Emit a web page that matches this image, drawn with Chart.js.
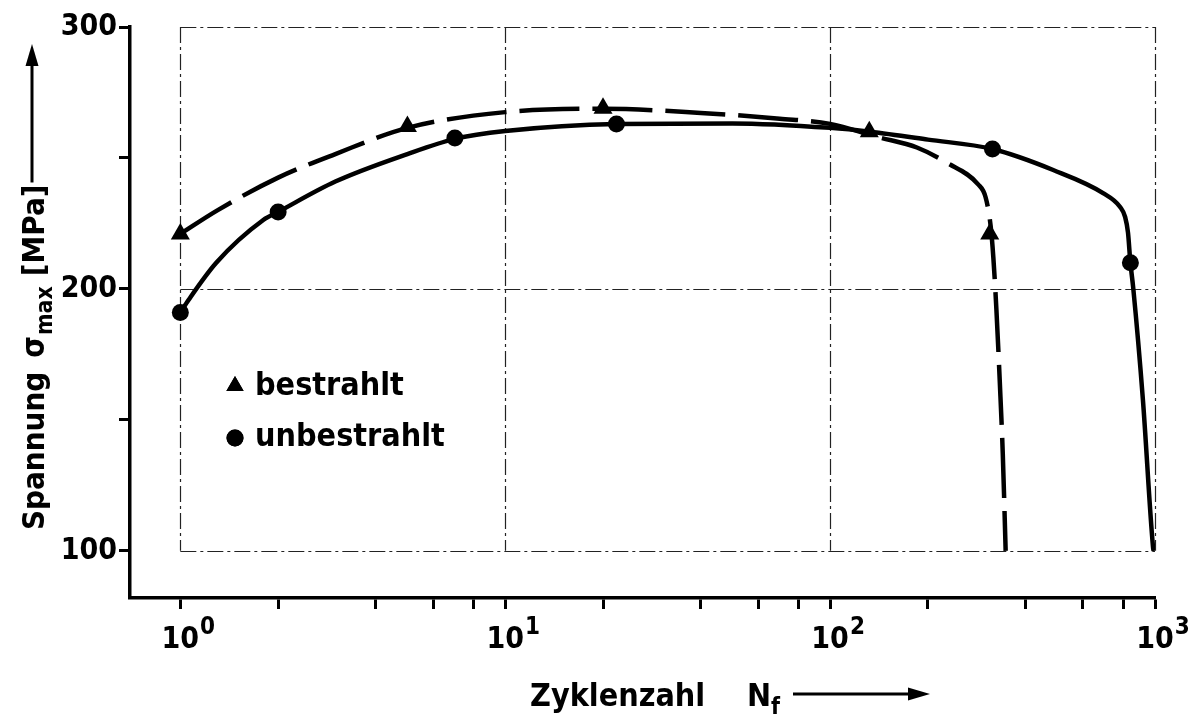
<!DOCTYPE html>
<html>
<head>
<meta charset="utf-8">
<script src="https://cdn.jsdelivr.net/npm/chart.js@4.4.1/dist/chart.umd.min.js"></script>
<style>
  html, body { margin: 0; padding: 0; background: #fff; }
  #wrap { width: 1198px; height: 715px; }
</style>
</head>
<body>
<div id="wrap"><canvas id="chart" width="1198" height="715"></canvas></div>
<script>
// Measured points: irradiated (bestrahlt) specimens
const cyclesIrr = [1, 5, 20, 132, 310];
const stressIrr = [221, 262, 269, 260, 221];

// Measured points: unirradiated (unbestrahlt) specimens
const cyclesUnirr = [1, 2, 7, 22, 316, 840];
const stressUnirr = [191, 229.4, 257.6, 263, 253.4, 210];

// Hand-fitted trend curve through the irradiated points (dashed)
const fitCyclesIrr = [1, 1.3, 2, 3, 5, 10, 20, 40, 70, 100, 140, 185, 230, 285, 301, 312, 318, 325, 333, 340, 347];
const fitStressIrr = [221, 230, 242.5, 251.5, 261.5, 267.5, 268.8, 267.2, 265, 263, 258, 254, 248, 240, 235, 224, 212, 192, 164, 137, 100];

// Hand-fitted trend curve through the unirradiated points (solid)
const fitCyclesUnirr = [1, 1.06, 1.29, 1.8, 2, 3, 5, 7, 10, 22, 50, 100, 133, 200, 316, 486, 692, 781, 809, 826, 840, 857, 918, 986, 990];
const fitStressUnirr = [191, 195.8, 210, 226.3, 229.4, 241, 251.5, 257.3, 260.3, 263, 263.2, 261.5, 260, 257, 253.4, 245.4, 236.6, 231.3, 227.5, 221.4, 210, 200.4, 157.6, 101.5, 100];

// Axis ticks and labels
const xTickValues = [1, 2, 4, 6, 8, 10, 20, 40, 60, 80, 100, 200, 400, 600, 800, 1000];
const xDecades = [1, 10, 100, 1000];
const xDecadeExponents = ['0', '1', '2', '3'];
const yTickValues = [100, 150, 200, 250, 300];
const yLabelValues = [100, 200, 300];
const gridY = [100, 200, 300];

// Texts
const seriesNames = ['bestrahlt', 'unbestrahlt'];
const xTitleText = 'Zyklenzahl';
const xSymbol = 'N';
const xSymbolSub = 'f';
const yTitleText = 'Spannung';
const ySymbol = 'σ';
const ySymbolSub = 'max';
const yUnit = '[MPa]';

const FONT = '"DejaVu Sans Condensed", "DejaVu Sans", sans-serif';
const INK = '#000';

const toXY = (xs, ys) => xs.map((x, i) => ({ x, y: ys[i] }));

// Dash-dot grid frame between the decades and the 100 MPa steps
const gridFrame = {
  id: 'gridFrame',
  beforeDatasetsDraw(chart) {
    const { ctx, scales: { x, y } } = chart;
    const x0 = x.getPixelForValue(xDecades[0]);
    const x1 = x.getPixelForValue(xDecades[xDecades.length - 1]);
    const yTop = y.getPixelForValue(Math.max(...gridY));
    const yBot = y.getPixelForValue(Math.min(...gridY));
    ctx.save();
    ctx.strokeStyle = '#222';
    ctx.lineWidth = 1.2;
    ctx.setLineDash([16, 4, 3, 4]);
    xDecades.forEach(v => {
      const px = Math.round(x.getPixelForValue(v)) + 0.5;
      ctx.beginPath(); ctx.moveTo(px, yTop); ctx.lineTo(px, yBot); ctx.stroke();
    });
    gridY.forEach(v => {
      const py = Math.round(y.getPixelForValue(v)) + 0.5;
      ctx.beginPath(); ctx.moveTo(x0, py); ctx.lineTo(x1, py); ctx.stroke();
    });
    ctx.restore();
  }
};

function arrowTo(ctx, x0, y0, x1, y1) {
  const ang = Math.atan2(y1 - y0, x1 - x0);
  const headLen = 22, headHalf = 6.5;
  const bx = x1 - headLen * Math.cos(ang), by = y1 - headLen * Math.sin(ang);
  ctx.beginPath(); ctx.moveTo(x0, y0); ctx.lineTo(bx, by); ctx.lineWidth = 3; ctx.stroke();
  ctx.beginPath();
  ctx.moveTo(x1, y1);
  ctx.lineTo(bx + headHalf * Math.sin(ang), by - headHalf * Math.cos(ang));
  ctx.lineTo(bx - headHalf * Math.sin(ang), by + headHalf * Math.cos(ang));
  ctx.closePath(); ctx.fill();
}

// Decade labels, axis titles and the in-plot key
const annotations = {
  id: 'annotations',
  afterDraw(chart) {
    const { ctx, scales: { x, y } } = chart;
    ctx.save();
    ctx.fillStyle = INK; ctx.strokeStyle = INK;
    ctx.textBaseline = 'alphabetic';

    // 10^n labels under the decade ticks
    xDecades.forEach((v, i) => {
      const px = x.getPixelForValue(v);
      ctx.font = `bold 30px ${FONT}`;
      const w = ctx.measureText('10').width;
      ctx.textAlign = 'left';
      ctx.fillText('10', px - w / 2, 648);
      ctx.font = `bold 24px ${FONT}`;
      ctx.fillText(xDecadeExponents[i], px + w / 2 + 1, 634);
    });

    // x-axis title
    ctx.textAlign = 'left';
    let cx = 530;
    ctx.font = `bold 32px ${FONT}`;
    ctx.fillText(xTitleText, cx, 706);
    cx = 747;
    ctx.fillText(xSymbol, cx, 706);
    cx += ctx.measureText(xSymbol).width;
    ctx.font = `bold 23px ${FONT}`;
    ctx.fillText(xSymbolSub, cx, 714);
    arrowTo(ctx, 793, 694, 930, 694);

    // y-axis title, reading upwards
    ctx.save();
    ctx.translate(44, 530);
    ctx.rotate(-Math.PI / 2);
    let t = 0;
    ctx.font = `bold 31px ${FONT}`;
    ctx.fillText(yTitleText, t, 0);
    t += ctx.measureText(yTitleText).width + 14;
    ctx.fillText(ySymbol, t, 0);
    t += ctx.measureText(ySymbol).width + 1;
    ctx.font = `bold 23px ${FONT}`;
    ctx.fillText(ySymbolSub, t, 8);
    t += ctx.measureText(ySymbolSub).width + 10;
    ctx.font = `bold 31px ${FONT}`;
    ctx.fillText(yUnit, t, 0);
    t += ctx.measureText(yUnit).width + 2;
    arrowTo(ctx, t, -12, 530 - 44, -12);
    ctx.restore();

    // key inside the plot
    const keyItems = [
      { style: 'triangle', radius: 10, name: seriesNames[0], cy: 386, base: 395 },
      { style: 'circle', radius: 8.5, name: seriesNames[1], cy: 438, base: 446 }
    ];
    keyItems.forEach(k => {
      Chart.helpers.drawPoint(ctx, { pointStyle: k.style, radius: k.radius, rotation: 0, borderWidth: 0 }, 235, k.cy);
      ctx.fill();
      ctx.font = `bold 32px ${FONT}`;
      ctx.textAlign = 'left';
      ctx.fillText(k.name, 255, k.base);
    });
    ctx.restore();
  }
};

const ctx = document.getElementById('chart').getContext('2d');
new Chart(ctx, {
  type: 'line',
  data: {
    datasets: [
      {
        label: seriesNames[0] + ' (Ausgleichskurve)',
        data: toXY(fitCyclesIrr, fitStressIrr),
        borderColor: INK, borderWidth: 4.5, borderDash: [60, 13],
        pointRadius: 0, cubicInterpolationMode: 'monotone', fill: false
      },
      {
        label: seriesNames[1] + ' (Ausgleichskurve)',
        data: toXY(fitCyclesUnirr, fitStressUnirr),
        borderColor: INK, borderWidth: 4.5,
        pointRadius: 0, cubicInterpolationMode: 'monotone', fill: false
      },
      {
        label: seriesNames[0],
        data: toXY(cyclesIrr, stressIrr),
        showLine: false, pointStyle: 'triangle', pointRadius: 11,
        backgroundColor: INK, borderColor: INK, borderWidth: 0
      },
      {
        label: seriesNames[1],
        data: toXY(cyclesUnirr, stressUnirr),
        showLine: false, pointStyle: 'circle', pointRadius: 8.5,
        backgroundColor: INK, borderColor: INK, borderWidth: 0
      }
    ]
  },
  options: {
    responsive: false,
    animation: false,
    layout: { padding: { top: 27, right: 43, left: 0, bottom: 0 } },
    plugins: { legend: { display: false }, tooltip: { enabled: false } },
    scales: {
      x: {
        type: 'logarithmic',
        min: 0.746, max: 1000,
        afterBuildTicks: s => { s.ticks = xTickValues.map(v => ({ value: v })); },
        afterFit: s => { s.height = 117; },
        border: { display: true, width: 3.5, color: INK },
        grid: { drawOnChartArea: false, drawTicks: true, tickLength: 11, tickWidth: 3, color: INK },
        ticks: { callback: () => '', autoSkip: false, maxRotation: 0 }
      },
      y: {
        min: 82, max: 300,
        afterBuildTicks: s => { s.ticks = yTickValues.map(v => ({ value: v })); },
        afterFit: s => { s.width = 130; },
        border: { display: true, width: 3.5, color: INK },
        grid: { drawOnChartArea: false, drawTicks: true, tickLength: 11, tickWidth: 3, color: INK },
        ticks: {
          autoSkip: false, color: INK, padding: 2,
          font: { family: FONT, size: 30, weight: 'bold' },
          callback: v => (yLabelValues.includes(v) ? String(v) : '')
        }
      }
    }
  },
  plugins: [gridFrame, annotations]
});
</script>
</body>
</html>
